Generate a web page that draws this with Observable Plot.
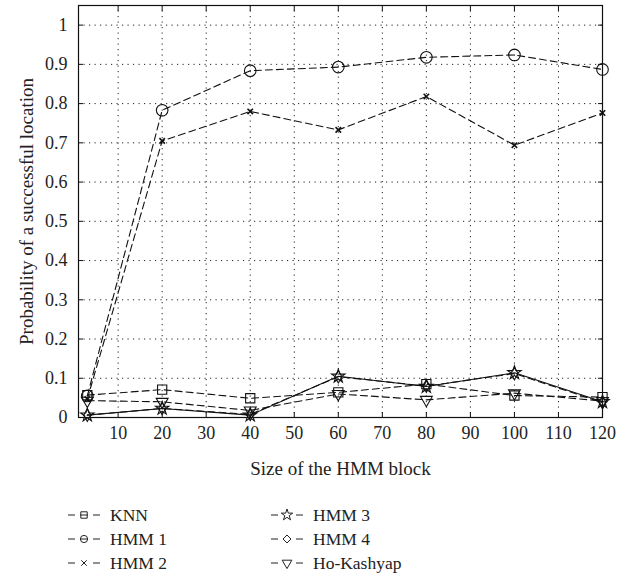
<!DOCTYPE html>
<html>
<head>
<meta charset="utf-8">
<script src="https://cdn.jsdelivr.net/npm/d3@7"></script>
<script src="https://cdn.jsdelivr.net/npm/@observablehq/plot@0.6"></script>
<style>
  html, body { margin: 0; padding: 0; background: #fff; }
  #wrap { position: relative; width: 620px; height: 577px; font-family: "Liberation Serif", "Times New Roman", serif; }
  #legend { position: absolute; left: 0; top: 503px; width: 620px; height: 74px; font-size: 17.5px; color: #222; }
  .item { position: absolute; display: flex; align-items: center; height: 24px; }
  .item svg { margin-right: 9px; }
</style>
</head>
<body>
<div id="wrap">
  <div id="chart"></div>
  <div id="legend"></div>
</div>
<script>
// ---- data ----
const sizes = [3, 20, 40, 60, 80, 100, 120];
const knn       = [0.057, 0.071, 0.049, 0.064, 0.085, 0.056, 0.052];
const hmm1      = [0.055, 0.783, 0.884, 0.893, 0.918, 0.924, 0.887];
const hmm2      = [0.047, 0.705, 0.780, 0.733, 0.818, 0.694, 0.776];
const hmm3      = [0.006, 0.023, 0.006, 0.105, 0.079, 0.114, 0.040];
const hmm4      = [0.006, 0.023, 0.008, 0.104, 0.080, 0.112, 0.038];
const hoKashyap = [0.043, 0.040, 0.018, 0.060, 0.045, 0.062, 0.042];
const seriesNames = ["KNN", "HMM 1", "HMM 2", "HMM 3", "HMM 4", "Ho-Kashyap"];
const xTicks = [10, 20, 30, 40, 50, 60, 70, 80, 90, 100, 110, 120];
const yTicks = [0, 0.1, 0.2, 0.3, 0.4, 0.5, 0.6, 0.7, 0.8, 0.9, 1];
const xLabel = "Size of the HMM block";
const yLabel = "Probability of a successful location";

const FONT = "Liberation Serif";

// downward triangle symbol
const triangleDown = {
  draw(context, size) {
    const y = -Math.sqrt(size / (Math.sqrt(3) * 3));
    context.moveTo(0, -y * 2);
    context.lineTo(-Math.sqrt(3) * y, y);
    context.lineTo(Math.sqrt(3) * y, y);
    context.closePath();
  }
};

const values = [knn, hmm1, hmm2, hmm3, hmm4, hoKashyap];
const styles = [
  {symbol: "square",  r: 5.2, dash: "7,4"},
  {symbol: "circle",  r: 5.8, dash: "7,4"},
  {symbol: "times",   r: 2.6, dash: "7,4"},
  {symbol: "star",    r: 4.2, dash: null},
  {symbol: "diamond", r: 3.8, dash: "7,4"},
  {symbol: triangleDown, r: 4.4, dash: "7,4"}
];

const rows = [];
seriesNames.forEach((name, i) => {
  sizes.forEach((s, j) => rows.push({series: name, size: s, value: values[i][j], idx: i}));
});

const marks = [
  Plot.gridX(xTicks, {stroke: "#222", strokeOpacity: 1, strokeDasharray: "1.2,4.3"}),
  Plot.gridY(yTicks, {stroke: "#222", strokeOpacity: 1, strokeDasharray: "1.2,4.3"}),
];
seriesNames.forEach((name, i) => {
  const data = rows.filter(d => d.series === name);
  const st = styles[i];
  marks.push(Plot.line(data, {x: "size", y: "value", stroke: "#111", strokeWidth: 1.1,
    strokeDasharray: st.dash || undefined}));
  marks.push(Plot.dot(data, {x: "size", y: "value", symbol: () => st.symbol, r: st.r,
    stroke: "#111", strokeWidth: st.symbol === "times" ? 1.6 : 1.1, fill: "none"}));
});
marks.push(
  // inward ticks on all sides
  Plot.axisX(xTicks, {anchor: "bottom", tickSize: -5, text: null, label: null, stroke: "#111"}),
  Plot.axisX(xTicks, {anchor: "top", tickSize: -5, text: null, label: null, stroke: "#111"}),
  Plot.axisY(yTicks, {anchor: "left", tickSize: -5, text: null, label: null, stroke: "#111"}),
  Plot.axisY(yTicks, {anchor: "right", tickSize: -5, text: null, label: null, stroke: "#111"}),
  // tick labels
  Plot.axisX(xTicks, {anchor: "bottom", tickSize: 0, tickPadding: 9, label: null,
    fontSize: 18, fontFamily: FONT, fill: "#222"}),
  Plot.axisY(yTicks, {anchor: "left", tickSize: 0, tickPadding: 11, label: null,
    fontSize: 18, fontFamily: FONT, fill: "#222", tickFormat: d => String(d)}),
  // axis titles
  Plot.axisX(xTicks, {anchor: "bottom", tickSize: 0, text: null, label: xLabel, labelAnchor: "center",
    labelArrow: "none", labelOffset: 57, fontSize: 19, fontFamily: FONT, fill: "#222"}),
  Plot.axisY(yTicks, {anchor: "left", tickSize: 0, text: null, label: yLabel, labelAnchor: "center",
    labelArrow: "none", labelOffset: 59, fontSize: 19, fontFamily: FONT, fill: "#222"}),
  Plot.frame({stroke: "#111", strokeWidth: 1.2})
);

const chart = Plot.plot({
  width: 620,
  height: 490,
  marginLeft: 78,
  marginRight: 18,
  marginTop: 5,
  marginBottom: 73,
  style: {fontFamily: "'Liberation Serif', serif", fontSize: "18px", color: "#222", background: "#fff"},
  x: {domain: [1, 120]},
  y: {domain: [0, 1.05]},
  marks
});
document.getElementById("chart").appendChild(chart);

// legend
const legend = d3.select("#legend");
const pos = [[67, 0], [67, 24], [67, 48], [270, 0], [270, 24], [270, 48]];
seriesNames.forEach((name, i) => {
  const item = legend.append("div").attr("class", "item")
    .style("left", pos[i][0] + "px").style("top", pos[i][1] + "px");
  const svg = item.append("svg").attr("width", 34).attr("height", 20);
  svg.append("line").attr("x1", 1).attr("x2", 8).attr("y1", 10).attr("y2", 10).attr("stroke", "#222");
  svg.append("line").attr("x1", 26).attr("x2", 33).attr("y1", 10).attr("y2", 10).attr("stroke", "#222");
  const st = styles[i];
  const symType = typeof st.symbol === "string"
    ? {square: d3.symbolSquare, circle: d3.symbolCircle, times: d3.symbolTimes, star: d3.symbolStar, diamond: d3.symbolDiamond2}[st.symbol]
    : st.symbol;
  const rr = st.symbol === "times" ? 2.6 : 3.6;
  svg.append("path").attr("transform", "translate(17,10)")
    .attr("d", d3.symbol(symType, rr * rr * Math.PI)())
    .attr("fill", "none").attr("stroke", "#222");
  if (st.symbol === "square" || st.symbol === "circle") {
    svg.append("line").attr("x1", 13).attr("x2", 21).attr("y1", 10).attr("y2", 10).attr("stroke", "#222");
  }
  item.append("span").text(name);
});
</script>
</body>
</html>
